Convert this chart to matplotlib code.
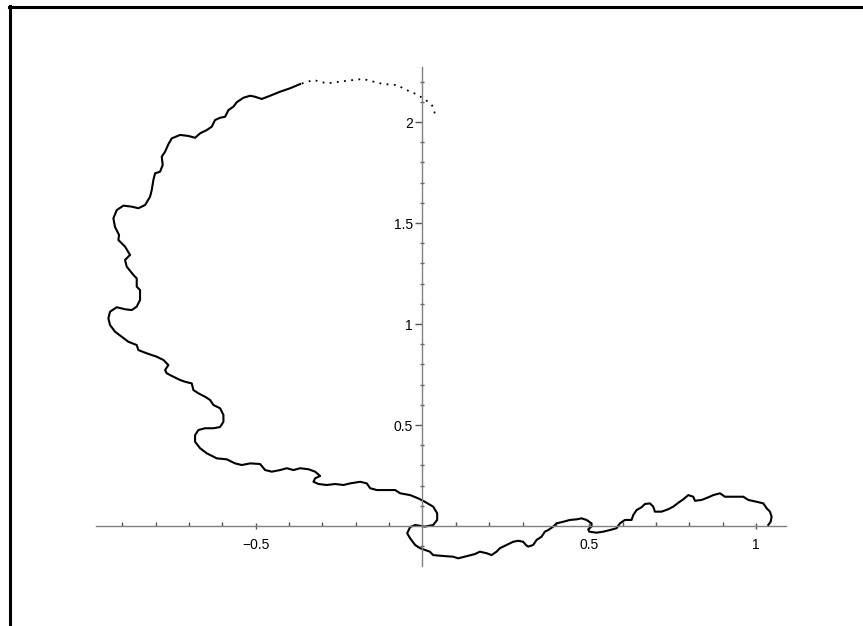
import matplotlib
matplotlib.use("Agg")
import matplotlib.pyplot as plt
from matplotlib.lines import Line2D
from matplotlib.ticker import MultipleLocator, FixedLocator

# sparse (dotted) start of the curve, top right
top_x = [0.037, 0.029, 0.017, 0.002, -0.017, -0.037, -0.058, -0.077, -0.118,
         -0.157, -0.178, -0.207, -0.247, -0.287, -0.307, -0.327, -0.367]
top_y = [2.043, 2.081, 2.100, 2.117, 2.137, 2.150, 2.167, 2.183, 2.188,
         2.204, 2.213, 2.208, 2.200, 2.191, 2.200, 2.208, 2.188]

# rest of the curve
curve_x = [-0.367, -0.397, -0.427, -0.457, -0.482, -0.502, -0.517, -0.537, -0.557, -0.567,
           -0.582, -0.592, -0.607, -0.622, -0.632, -0.647, -0.667, -0.682, -0.702, -0.727,
           -0.752, -0.762, -0.772, -0.782, -0.779, -0.787, -0.802, -0.807, -0.812, -0.817,
           -0.832, -0.852, -0.872, -0.897, -0.917, -0.927, -0.922, -0.910, -0.912, -0.892,
           -0.877, -0.892, -0.887, -0.867, -0.857, -0.857, -0.847, -0.847, -0.857, -0.872,
           -0.892, -0.917, -0.937, -0.942, -0.937, -0.922, -0.902, -0.882, -0.857, -0.852,
           -0.827, -0.797, -0.777, -0.762, -0.772, -0.767, -0.747, -0.727, -0.712, -0.692,
           -0.687, -0.672, -0.652, -0.637, -0.627, -0.607, -0.597, -0.597, -0.607, -0.627,
           -0.652, -0.672, -0.682, -0.682, -0.667, -0.647, -0.617, -0.587, -0.562, -0.542,
           -0.517, -0.487, -0.472, -0.452, -0.427, -0.407, -0.387, -0.367, -0.342, -0.322,
           -0.307, -0.322, -0.327, -0.312, -0.287, -0.262, -0.237, -0.217, -0.187, -0.167,
           -0.157, -0.137, -0.107, -0.082, -0.067, -0.037, -0.013, 0.007, 0.032, 0.044,
           0.044, 0.032, 0.007, -0.022, -0.037, -0.046, -0.037, -0.022, -0.007, 0.022,
           0.032, 0.067, 0.092, 0.107, 0.133, 0.157, 0.172, 0.193, 0.207, 0.222,
           0.232, 0.252, 0.272, 0.287, 0.302, 0.310, 0.317, 0.332, 0.342, 0.357,
           0.367, 0.377, 0.392, 0.402, 0.422, 0.442, 0.462, 0.477, 0.492, 0.507,
           0.507, 0.497, 0.500, 0.522, 0.542, 0.562, 0.582, 0.592, 0.607, 0.627,
           0.632, 0.642, 0.657, 0.667, 0.682, 0.692, 0.697, 0.717, 0.737, 0.752,
           0.767, 0.782, 0.797, 0.812, 0.817, 0.837, 0.857, 0.872, 0.892, 0.907,
           0.932, 0.962, 0.977, 1.002, 1.022, 1.032, 1.042, 1.047, 1.044, 1.037]
curve_y = [2.188, 2.167, 2.150, 2.130, 2.114, 2.125, 2.130, 2.120, 2.098, 2.076,
           2.059, 2.026, 2.021, 2.010, 1.977, 1.960, 1.944, 1.922, 1.931, 1.936,
           1.919, 1.890, 1.853, 1.828, 1.787, 1.754, 1.746, 1.713, 1.663, 1.630,
           1.589, 1.573, 1.581, 1.586, 1.564, 1.523, 1.480, 1.441, 1.416, 1.383,
           1.342, 1.317, 1.284, 1.243, 1.226, 1.185, 1.168, 1.119, 1.086, 1.069,
           1.073, 1.083, 1.061, 1.028, 0.995, 0.962, 0.937, 0.912, 0.896, 0.871,
           0.855, 0.838, 0.822, 0.797, 0.772, 0.756, 0.739, 0.723, 0.714, 0.706,
           0.673, 0.657, 0.640, 0.624, 0.599, 0.583, 0.550, 0.516, 0.490, 0.484,
           0.484, 0.475, 0.450, 0.417, 0.385, 0.360, 0.335, 0.330, 0.310, 0.302,
           0.310, 0.307, 0.277, 0.269, 0.277, 0.286, 0.277, 0.286, 0.281, 0.269,
           0.248, 0.236, 0.219, 0.208, 0.203, 0.208, 0.203, 0.211, 0.219, 0.211,
           0.187, 0.178, 0.178, 0.178, 0.162, 0.153, 0.137, 0.120, 0.096, 0.063,
           0.030, 0.005, -0.003, 0.005, -0.005, -0.036, -0.061, -0.094, -0.110, -0.127,
           -0.144, -0.149, -0.152, -0.160, -0.149, -0.139, -0.127, -0.135, -0.144, -0.127,
           -0.110, -0.094, -0.078, -0.073, -0.078, -0.094, -0.102, -0.094, -0.069, -0.053,
           -0.028, -0.020, -0.003, 0.013, 0.021, 0.030, 0.033, 0.038, 0.030, 0.013,
           -0.003, -0.016, -0.028, -0.033, -0.028, -0.020, -0.011, 0.013, 0.030, 0.030,
           0.054, 0.079, 0.093, 0.109, 0.112, 0.096, 0.071, 0.071, 0.083, 0.096,
           0.115, 0.132, 0.153, 0.145, 0.125, 0.129, 0.142, 0.153, 0.162, 0.145,
           0.145, 0.145, 0.129, 0.120, 0.112, 0.088, 0.071, 0.046, 0.021, 0.005]

x_ticks = [-0.5, 0.5, 1]
x_labels = ["\u22120.5", "0.5", "1"]
y_ticks = [0.5, 1, 1.5, 2]
y_labels = ["0.5", "1", "1.5", "2"]

x_axis_range = (-0.98, 1.09)
y_axis_range = (-0.20, 2.27)

plt.rcParams['font.family'] = ['Liberation Sans', 'DejaVu Sans']

fig = plt.figure(figsize=(8.63, 6.26), dpi=100)
ax = fig.add_axes([0, 0, 1, 1])
ax.set_xlim(-1.267, 1.321)
ax.set_ylim(-0.495, 2.604)

ax.plot(top_x, top_y, color='black', lw=1.3, linestyle=(0, (1, 3)))
ax.plot(curve_x, curve_y, color='black', lw=1.5)

# axes through the origin, Maple style
for side in ['top', 'right']:
    ax.spines[side].set_visible(False)
ax.spines['left'].set_position(('data', 0))
ax.spines['bottom'].set_position(('data', 0))
ax.spines['left'].set_bounds(*y_axis_range)
ax.spines['bottom'].set_bounds(*x_axis_range)
for side in ['left', 'bottom']:
    ax.spines[side].set_color('#808080')
    ax.spines[side].set_linewidth(1.0)

ax.xaxis.set_major_locator(FixedLocator(x_ticks))
ax.set_xticklabels(x_labels)
ax.yaxis.set_major_locator(FixedLocator(y_ticks))
ax.set_yticklabels(y_labels)
ax.xaxis.set_minor_locator(FixedLocator([i / 10 for i in range(-9, 11) if i % 5 != 0]))
ax.yaxis.set_minor_locator(FixedLocator([i / 10 for i in range(-1, 23) if i % 5 != 0]))

ax.tick_params(axis='x', which='major', direction='inout', length=5, width=1,
               color='#555555', labelsize=10, pad=6)
ax.tick_params(axis='x', which='minor', direction='in', length=3, width=1, color='#555555')
ax.tick_params(axis='y', which='major', direction='out', length=5, width=1,
               color='#555555', labelsize=10, pad=2)
ax.tick_params(axis='y', which='minor', direction='inout', length=3, width=1, color='#555555')

# outer frame (left and top edges)
fig.add_artist(Line2D([9.5 / 863, 9.5 / 863], [0, 1 - 6 / 626], color='black', lw=2.2,
                      transform=fig.transFigure))
fig.add_artist(Line2D([8.5 / 863, 1], [1 - 7 / 626, 1 - 7 / 626], color='black', lw=2.2,
                      transform=fig.transFigure))

fig.savefig('out.png', dpi=100)
